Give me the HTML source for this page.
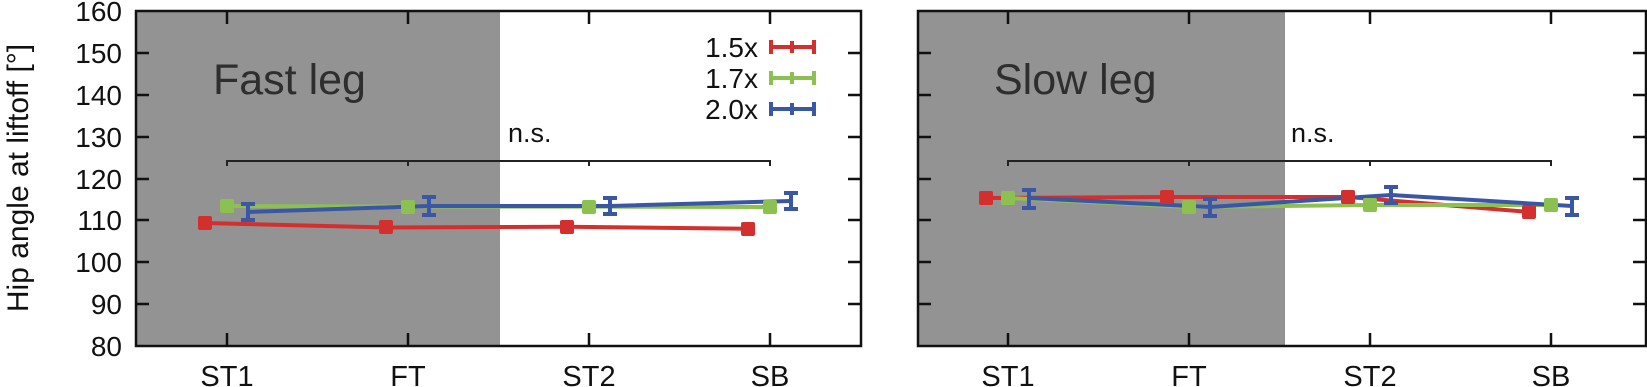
<!DOCTYPE html>
<html><head><meta charset="utf-8"><style>
html,body{margin:0;padding:0;background:#fff;}
svg{display:block;font-family:"Liberation Sans",Arial,sans-serif;}
</style></head><body>
<svg width="1647" height="387" viewBox="0 0 1647 387" xmlns="http://www.w3.org/2000/svg">
<rect x="136" y="11" width="364" height="335" fill="#939393"/>
<rect x="918" y="11" width="367" height="335" fill="#939393"/>

<g stroke="#111" stroke-width="2.5" fill="none">
<rect x="136" y="11" width="725" height="335"/>
<rect x="918" y="11" width="728" height="335"/>
</g>
<g stroke="#111" stroke-width="2.5">
<path d="M136 53h13M136 95h13M136 137h13M136 179h13M136 220h13M136 262h13M136 304h13
M861 53h-13M861 95h-13M861 137h-13M861 179h-13M861 220h-13M861 262h-13M861 304h-13
M918 53h13M918 95h13M918 137h13M918 179h13M918 220h13M918 262h13M918 304h13
M1646 53h-13M1646 95h-13M1646 137h-13M1646 179h-13M1646 220h-13M1646 262h-13M1646 304h-13"/>
<path d="M227 11v13M408 11v13M589 11v13M770 11v13M227 346v-13M408 346v-13M589 346v-13M770 346v-13
M1008 11v13M1189 11v13M1370 11v13M1551 11v13M1008 346v-13M1189 346v-13M1370 346v-13M1551 346v-13"/>
</g>

<g font-size="28" fill="#111" text-anchor="end">
<text x="122" y="21">160</text><text x="122" y="63">150</text><text x="122" y="105">140</text>
<text x="122" y="147">130</text><text x="122" y="189">120</text><text x="122" y="230">110</text>
<text x="122" y="272">100</text><text x="122" y="314">90</text><text x="122" y="356">80</text>
</g>
<text transform="translate(28,178) rotate(-90)" font-size="30" fill="#111" text-anchor="middle">Hip angle at liftoff [°]</text>

<g font-size="29" fill="#111" text-anchor="middle">
<text x="227" y="386">ST1</text><text x="408" y="386">FT</text><text x="589" y="386">ST2</text><text x="770" y="386">SB</text>
<text x="1008" y="386">ST1</text><text x="1189" y="386">FT</text><text x="1370" y="386">ST2</text><text x="1551" y="386">SB</text>
</g>

<text x="213" y="94" font-size="43" fill="#2e2e2e">Fast leg</text>
<text x="994" y="94" font-size="43" fill="#2e2e2e">Slow leg</text>

<g stroke="#222" stroke-width="2" fill="none">
<path d="M227 166v-5h543v5M408 161v5M589 161v5"/>
<path d="M1008 166v-5h543v5M1189 161v5M1370 161v5"/>
</g>
<text x="508" y="142" font-size="27" fill="#111">n.s.</text>
<text x="1291" y="142" font-size="27" fill="#111">n.s.</text>

<g font-size="28" fill="#111" text-anchor="end">
<text x="758" y="57">1.5x</text><text x="758" y="88">1.7x</text><text x="758" y="119">2.0x</text>
</g>
<g stroke-width="4" fill="none">
<path d="M770 47h45M771 40v14M814 40v14M792 41v12" stroke="#d32f2f"/>
<path d="M770 78h45M771 71v14M814 71v14M792 72v12" stroke="#8cc152"/>
<path d="M770 109h45M771 102v14M814 102v14M792 103v12" stroke="#3a57a6"/>
</g>

<g stroke-width="4" fill="none" stroke-linejoin="round">
<polyline points="205,223 386,227.5 567,226.7 748,228.7" stroke="#d32f2f"/>
<polyline points="227,206 408,206.6 589,206.6 770,207" stroke="#8cc152"/>
<polyline points="248,212 429,206 610,206 791,201" stroke="#3a57a6"/>
</g>
<g fill="#d32f2f"><rect x="198" y="216" width="14" height="14" rx="2"/><rect x="379" y="220" width="14" height="14" rx="2"/><rect x="560" y="220" width="14" height="14" rx="2"/><rect x="741" y="222" width="14" height="14" rx="2"/></g>
<g fill="#8cc152"><rect x="220" y="199" width="14" height="14" rx="2"/><rect x="401" y="200" width="14" height="14" rx="2"/><rect x="582" y="200" width="14" height="14" rx="2"/><rect x="763" y="200" width="14" height="14" rx="2"/></g>
<g stroke="#3a57a6" stroke-width="4" fill="none">
<path d="M248 204v16M241 204h14M241 220h14"/>
<path d="M429 197v18M422 197h14M422 215h14"/>
<path d="M610 198v16M603 198h14M603 214h14"/>
<path d="M791 193v16M784 193h14M784 209h14"/>
</g>

<g stroke-width="4" fill="none" stroke-linejoin="round">
<polyline points="986,198 1167,197 1348,197 1529,212" stroke="#d32f2f"/>
<polyline points="1008,198 1189,207 1370,205 1551,205" stroke="#8cc152"/>
<polyline points="1029,198 1210,207 1391,195 1572,206" stroke="#3a57a6"/>
</g>
<g fill="#d32f2f"><rect x="979" y="191" width="14" height="14" rx="2"/><rect x="1160" y="190" width="14" height="14" rx="2"/><rect x="1341" y="190" width="14" height="14" rx="2"/><rect x="1522" y="205" width="14" height="14" rx="2"/></g>
<g fill="#8cc152"><rect x="1001" y="191" width="14" height="14" rx="2"/><rect x="1182" y="200" width="14" height="14" rx="2"/><rect x="1363" y="198" width="14" height="14" rx="2"/><rect x="1544" y="198" width="14" height="14" rx="2"/></g>
<g stroke="#3a57a6" stroke-width="4" fill="none">
<path d="M1029 190v18M1022 190h14M1022 208h14"/>
<path d="M1210 199v17M1203 199h14M1203 216h14"/>
<path d="M1391 187v16M1384 187h14M1384 203h14"/>
<path d="M1572 198v17M1565 198h14M1565 215h14"/>
</g>
</svg>
</body></html>
